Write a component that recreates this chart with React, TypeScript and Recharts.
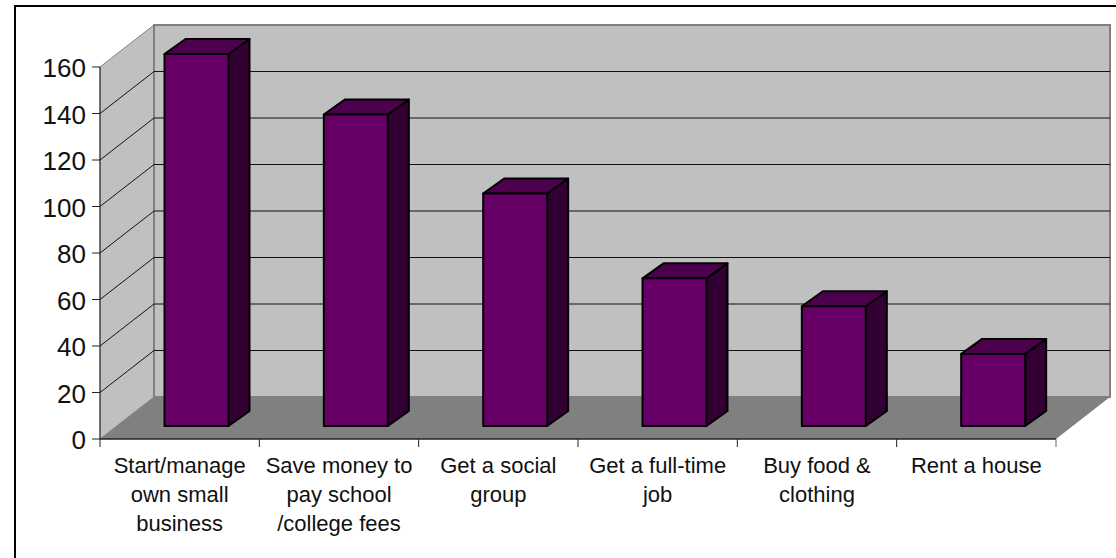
import { Bar, BarChart, ReferenceArea, ReferenceLine, XAxis, YAxis } from "recharts";

const categories = [
  "Start/manage\nown small\nbusiness",
  "Save money to\npay school\n/college fees",
  "Get a social\ngroup",
  "Get a full-time\njob",
  "Buy food &\nclothing",
  "Rent a house",
];
const counts = [160, 134, 100, 63.5, 51.5, 31];
const yTicks = [0, 20, 40, 60, 80, 100, 120, 140, 160];
const gridValues = [20, 40, 60, 80, 100, 120, 140];

const data = categories.map((name, i) => ({ name, count: counts[i] }));

const CHART_W = 1116;
const CHART_H = 558;
const AXIS_W = 100;
const RIGHT_GAP = 60;
const BAND = (CHART_W - AXIS_W - RIGHT_GAP) / categories.length;

// oblique projection used by the walls and the bars
const WALL_DX = 54;
const WALL_DY = 42;
const BAR_SHIFT_X = 16.5;
const BAR_SHIFT_Y = 13;
const BAR_DX = 21;
const BAR_DY = 15;

const FRONT = "#660066";
const TOP = "#4d004d";
const SIDE = "#330033";

const pts = (list: number[][]) => list.map((p) => p.join(",")).join(" ");

const Walls = ({ x, y, width, height }: any) => {
  const bottom = y + height;
  const right = x + width;
  return (
    <g>
      <polygon
        points={pts([[x, y], [x + WALL_DX, y - WALL_DY], [x + WALL_DX, bottom - WALL_DY], [x, bottom]])}
        fill="#c0c0c0"
        stroke="#808080"
        strokeWidth={1}
      />
      <polygon
        points={pts([[x + WALL_DX, y - WALL_DY], [right + WALL_DX, y - WALL_DY], [right + WALL_DX, bottom - WALL_DY], [x + WALL_DX, bottom - WALL_DY]])}
        fill="#c0c0c0"
        stroke="#808080"
        strokeWidth={2}
      />
      <polygon
        points={pts([[x, bottom], [x + WALL_DX, bottom - WALL_DY], [right + WALL_DX, bottom - WALL_DY], [right, bottom]])}
        fill="#808080"
      />
    </g>
  );
};

// gridline that runs up the side wall and then across the back wall
const WallLine = ({ x1, y1, x2, y2 }: any) => (
  <polyline
    points={pts([[x1, y1], [x1 + WALL_DX, y1 - WALL_DY], [x2 + WALL_DX, y2 - WALL_DY]])}
    fill="none"
    stroke="#111"
    strokeWidth={1}
  />
);

const Box = ({ x, y, width, height }: any) => {
  const left = x + BAR_SHIFT_X;
  const top = y - BAR_SHIFT_Y;
  const right = left + width;
  const bottom = top + height;
  return (
    <g stroke="#000" strokeWidth={2} strokeLinejoin="round">
      <polygon points={pts([[right, top], [right + BAR_DX, top - BAR_DY], [right + BAR_DX, bottom - BAR_DY], [right, bottom]])} fill={SIDE} />
      <polygon points={pts([[left, top], [left + BAR_DX, top - BAR_DY], [right + BAR_DX, top - BAR_DY], [right, top]])} fill={TOP} />
      <rect x={left} y={top} width={width} height={height} fill={FRONT} />
    </g>
  );
};

// tick marks sit between the categories, the label stays centred on its band
const CategoryTick = ({ x, y, payload, index }: any) => (
  <g>
    <line x1={x - BAND / 2} x2={x - BAND / 2} y1={y - 8} y2={y} stroke="#222" />
    {index === categories.length - 1 && (
      <line x1={x + BAND / 2} x2={x + BAND / 2} y1={y - 8} y2={y} stroke="#666" />
    )}
    <text x={x} y={y} textAnchor="middle" fontSize={22} fill="#111">
      {String(payload.value)
        .split("\n")
        .map((line, i) => (
          <tspan key={line} x={x} y={y + 26 + i * 29}>
            {line}
          </tspan>
        ))}
    </text>
  </g>
);

export default function App() {
  return (
    <div
      style={{
        position: "absolute",
        left: 0,
        top: 0,
        width: CHART_W,
        height: CHART_H,
        background: "#fff",
        fontFamily: "'Liberation Sans', Arial, sans-serif",
      }}
    >
      <div
        style={{
          position: "absolute",
          left: 14,
          top: 5,
          right: 0,
          bottom: 0,
          borderTop: "2px solid #000",
          borderLeft: "2px solid #000",
        }}
      />
      <BarChart
        width={CHART_W}
        height={CHART_H}
        data={data}
        margin={{ top: 67, left: 0, right: RIGHT_GAP, bottom: 0 }}
        barSize={64}
        style={{ position: "absolute", left: 0, top: 0 }}
      >
        <ReferenceArea y1={0} y2={160} ifOverflow="visible" shape={<Walls />} zIndex={100} />
        {gridValues.map((v) => (
          <ReferenceLine key={v} y={v} ifOverflow="visible" shape={<WallLine />} zIndex={150} />
        ))}
        <XAxis
          dataKey="name"
          interval={0}
          height={119}
          tick={<CategoryTick />}
          tickSize={8}
          tickMargin={0}
          tickLine={false}
          axisLine={{ stroke: "#222", strokeWidth: 1.5 }}
        />
        <YAxis
          width={AXIS_W}
          domain={[0, 160]}
          ticks={yTicks}
          interval={0}
          tickSize={8}
          tickMargin={6}
          axisLine={{ stroke: "#222" }}
          tickLine={{ stroke: "#222" }}
          tick={{ fontSize: 26, fill: "#111", dy: 1 }}
        />
        <Bar dataKey="count" isAnimationActive={false} shape={<Box />} />
      </BarChart>
    </div>
  );
}
